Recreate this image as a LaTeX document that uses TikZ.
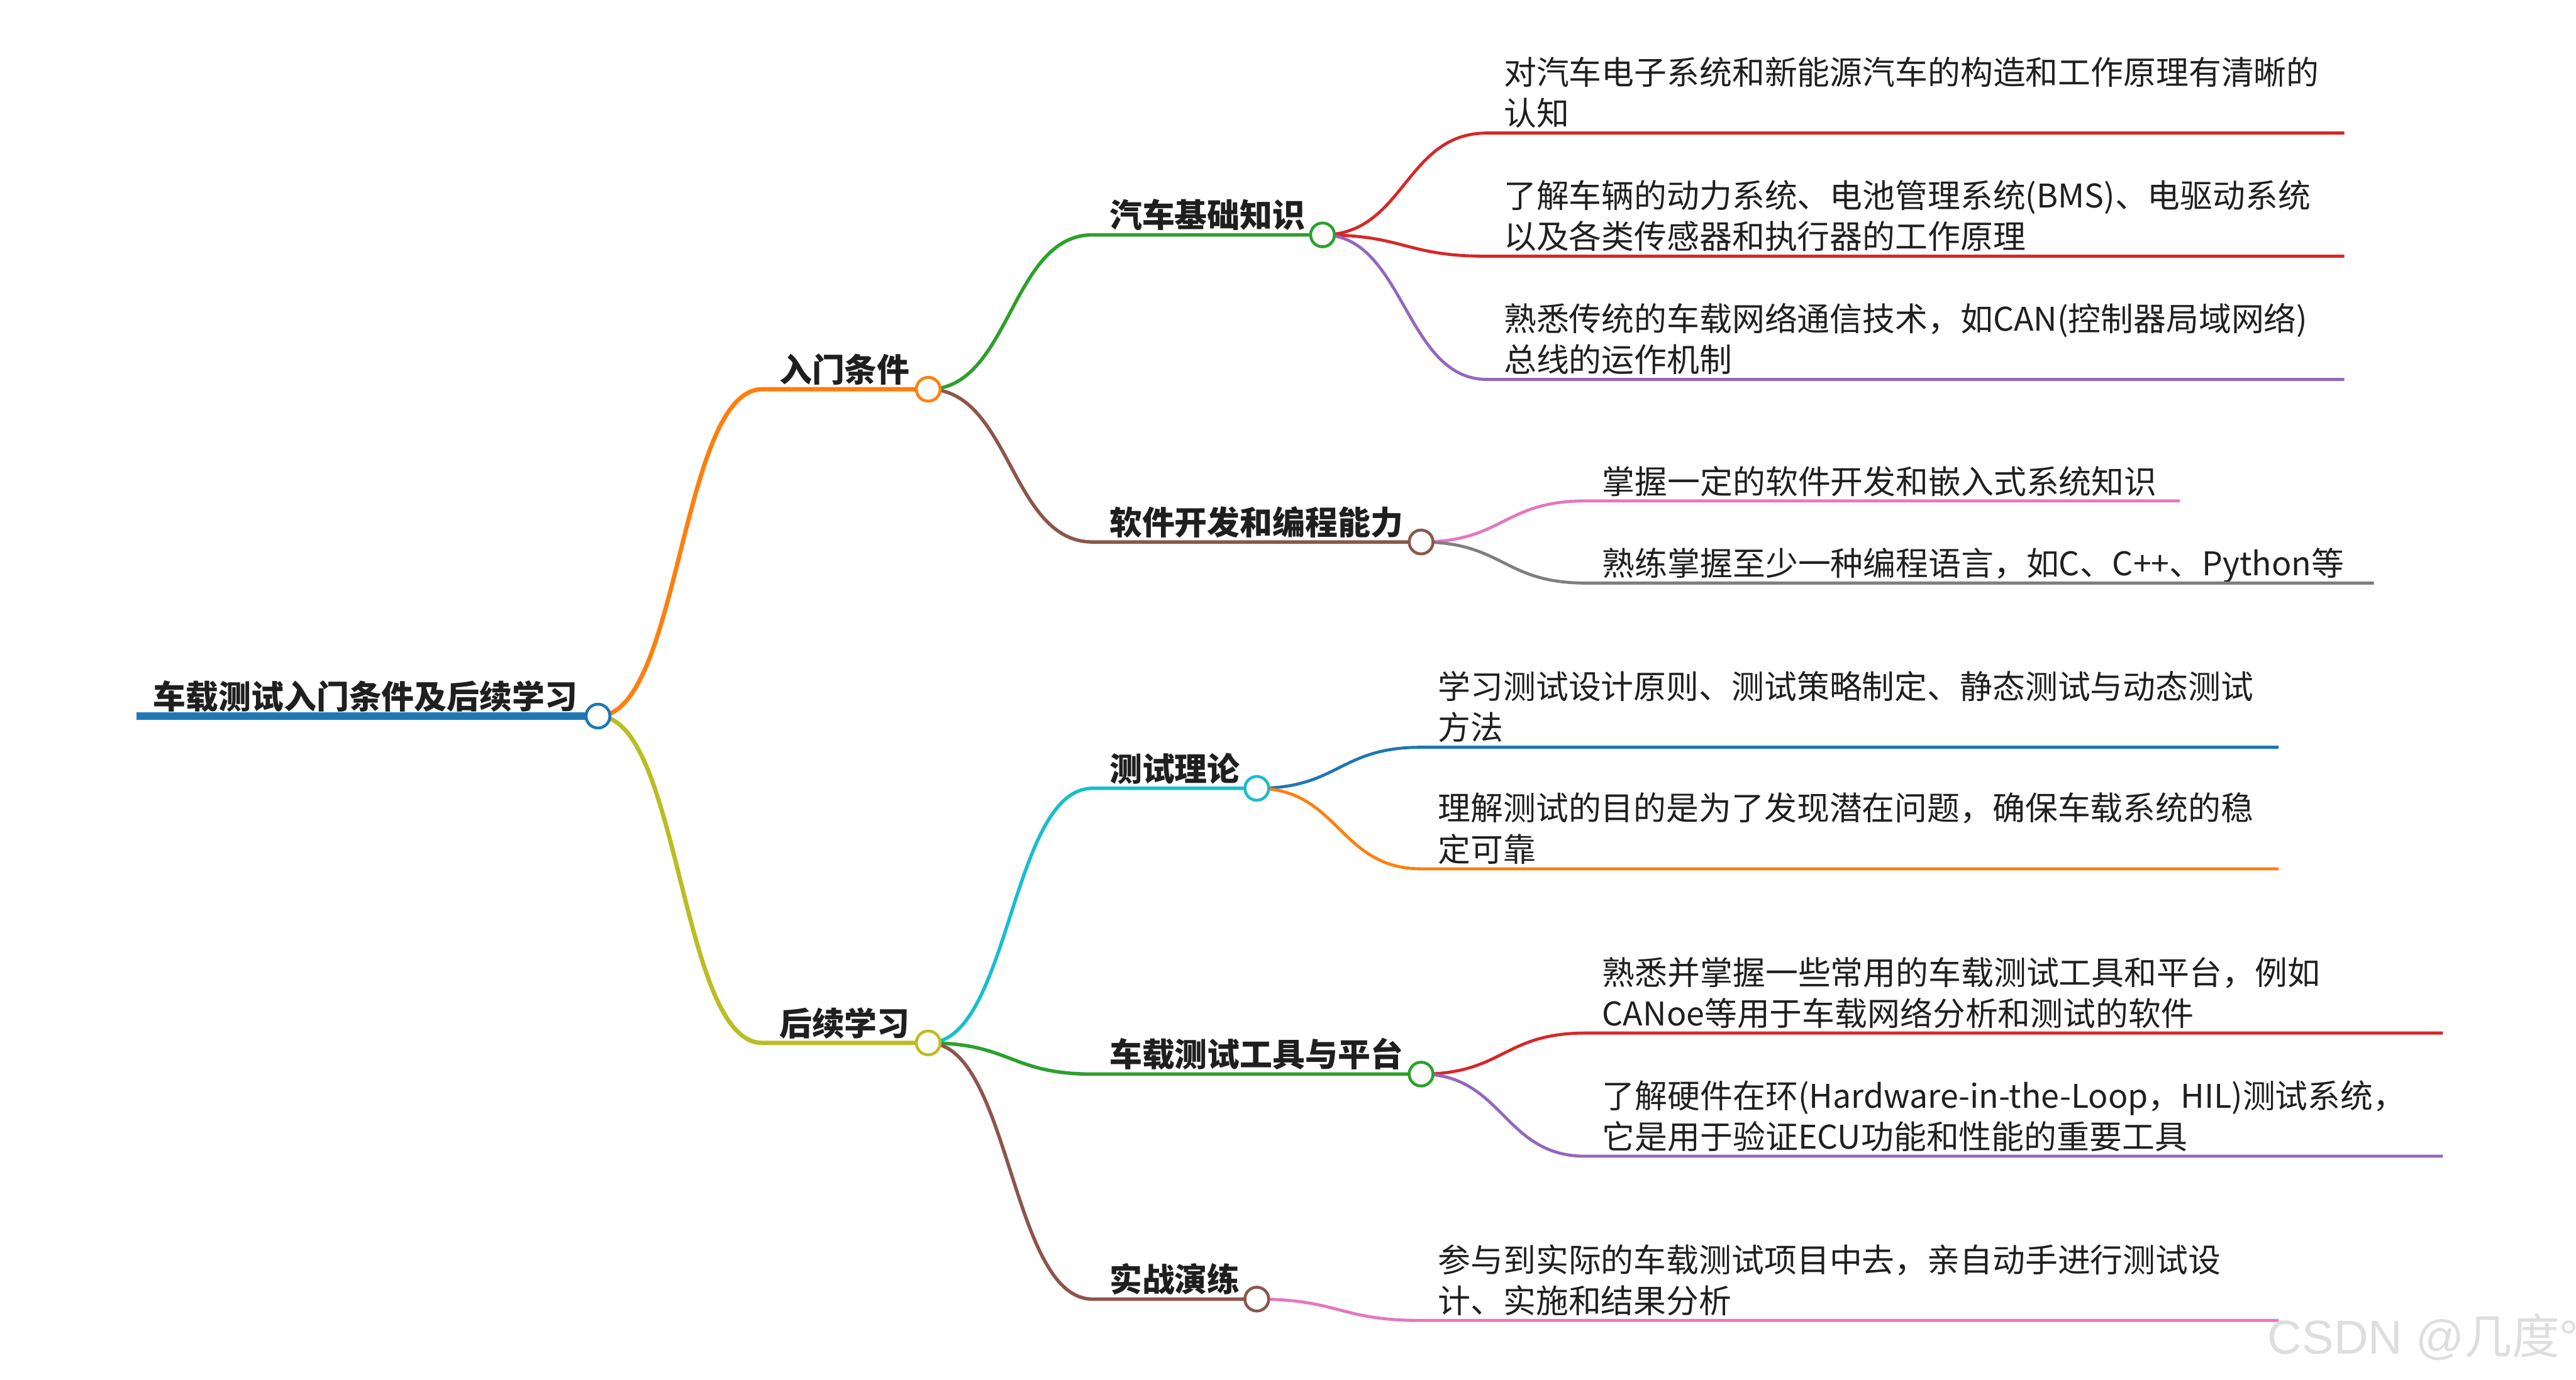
\documentclass[tikz,border=0pt]{standalone}
\usepackage{fontspec}
\usepackage{xcolor}
\usepackage{tikz}
\setmainfont{Noto Sans CJK SC}
\newfontfamily\markfont{Liberation Sans}

\definecolor{cBlue}{HTML}{1F77B4}
\definecolor{cOrange}{HTML}{FF7F0E}
\definecolor{cGreen}{HTML}{2CA02C}
\definecolor{cRed}{HTML}{D62728}
\definecolor{cPurple}{HTML}{9467BD}
\definecolor{cBrown}{HTML}{8C564B}
\definecolor{cPink}{HTML}{E377C2}
\definecolor{cGray}{HTML}{7F7F7F}
\definecolor{cOlive}{HTML}{BCBD22}
\definecolor{cCyan}{HTML}{17BECF}

\begin{document}
\begin{tikzpicture}[x=0.02cm, y=-0.02cm,
  topic/.style={font=\fontsize{11.3}{14.2}\selectfont\bfseries, anchor=base west, inner sep=0pt, text=black!88},
  leaf/.style={font=\fontsize{11.3}{14.2}\selectfont, anchor=base west, inner sep=0pt, align=left, text=black!88},
  dot/.style={circle, draw=#1, fill=white, line width=1pt, minimum size=0.29cm, inner sep=0pt},
  wire0/.style={line width=2.8pt},
  wire1/.style={line width=1.5pt},
  wire2/.style={line width=1.2pt},
  wire3/.style={line width=1.05pt},
  branch/.style={to path={.. controls +(50,0) and +(-50,0) .. (\tikztotarget)}}]
\useasboundingbox (0,0) rectangle (1568,840);

% Root
\node[topic] (root) at (93,431.5) {车载测试入门条件及后续学习};
\coordinate (root-s) at (83,436);
\coordinate (root-c) at (364,436);
\draw[wire0, cBlue] (root-s) -- (root-c);

% First level
\node[topic] (rumen) at (474,232.5) {入门条件};
\coordinate (rumen-s) at (464,237);
\coordinate (rumen-c) at (565,237);
\draw[wire1, cOrange] (root-c) to[branch] (rumen-s) -- (rumen-c);

\node[topic] (houxu) at (474,630.5) {后续学习};
\coordinate (houxu-s) at (464,635);
\coordinate (houxu-c) at (565,635);
\draw[wire1, cOlive] (root-c) to[branch] (houxu-s) -- (houxu-c);

% Second level, under 入门条件
\node[topic] (jichu) at (675,138.5) {汽车基础知识};
\coordinate (jichu-s) at (665,143);
\coordinate (jichu-c) at (805,143);
\draw[wire2, cGreen] (rumen-c) to[branch] (jichu-s) -- (jichu-c);

\node[topic] (ruanjian) at (675,325.5) {软件开发和编程能力};
\coordinate (ruanjian-s) at (665,330);
\coordinate (ruanjian-c) at (865,330);
\draw[wire2, cBrown] (rumen-c) to[branch] (ruanjian-s) -- (ruanjian-c);

% Second level, under 后续学习
\node[topic] (lilun) at (675,475.5) {测试理论};
\coordinate (lilun-s) at (665,480);
\coordinate (lilun-c) at (765,480);
\draw[wire2, cCyan] (houxu-c) to[branch] (lilun-s) -- (lilun-c);

\node[topic] (gongju) at (675,649.5) {车载测试工具与平台};
\coordinate (gongju-s) at (665,654);
\coordinate (gongju-c) at (865,654);
\draw[wire2, cGreen] (houxu-c) to[branch] (gongju-s) -- (gongju-c);

\node[topic] (shizhan) at (675,786.5) {实战演练};
\coordinate (shizhan-s) at (665,791);
\coordinate (shizhan-c) at (765,791);
\draw[wire2, cBrown] (houxu-c) to[branch] (shizhan-s) -- (shizhan-c);

% Leaves of 汽车基础知识
\node[leaf] (a1) at (915,76.5) {对汽车电子系统和新能源汽车的构造和工作原理有清晰的\\认知};
\draw[wire3, cRed] (jichu-c) to[branch] (905,81) coordinate (a1-s) -- (1427,81) coordinate (a1-e);
\node[leaf] (a2) at (915,151.5) {了解车辆的动力系统、电池管理系统(BMS)、电驱动系统\\以及各类传感器和执行器的工作原理};
\draw[wire3, cRed] (jichu-c) to[branch] (905,156) coordinate (a2-s) -- (1427,156) coordinate (a2-e);
\node[leaf] (a3) at (915,226.5) {熟悉传统的车载网络通信技术，如CAN(控制器局域网络)\\总线的运作机制};
\draw[wire3, cPurple] (jichu-c) to[branch] (905,231) coordinate (a3-s) -- (1427,231) coordinate (a3-e);

% Leaves of 软件开发和编程能力
\node[leaf] (b1) at (975,300.5) {掌握一定的软件开发和嵌入式系统知识};
\draw[wire3, cPink] (ruanjian-c) to[branch] (965,305) coordinate (b1-s) -- (1327,305) coordinate (b1-e);
\node[leaf] (b2) at (975,350.5) {熟练掌握至少一种编程语言，如C、C++、Python等};
\draw[wire3, cGray] (ruanjian-c) to[branch] (965,355) coordinate (b2-s) -- (1445,355) coordinate (b2-e);

% Leaves of 测试理论
\node[leaf] (c1) at (875,450.5) {学习测试设计原则、测试策略制定、静态测试与动态测试\\方法};
\draw[wire3, cBlue] (lilun-c) to[branch] (865,455) coordinate (c1-s) -- (1387,455) coordinate (c1-e);
\node[leaf] (c2) at (875,524.5) {理解测试的目的是为了发现潜在问题，确保车载系统的稳\\定可靠};
\draw[wire3, cOrange] (lilun-c) to[branch] (865,529) coordinate (c2-s) -- (1387,529) coordinate (c2-e);

% Leaves of 车载测试工具与平台
\node[leaf] (d1) at (975,624.5) {熟悉并掌握一些常用的车载测试工具和平台，例如\\CANoe等用于车载网络分析和测试的软件};
\draw[wire3, cRed] (gongju-c) to[branch] (965,629) coordinate (d1-s) -- (1487,629) coordinate (d1-e);
\node[leaf] (d2) at (975,699.5) {了解硬件在环(Hardware-in-the-Loop，HIL)测试系统，\\它是用于验证ECU功能和性能的重要工具};
\draw[wire3, cPurple] (gongju-c) to[branch] (965,704) coordinate (d2-s) -- (1487,704) coordinate (d2-e);

% Leaf of 实战演练
\node[leaf] (e1) at (875,799.5) {参与到实际的车载测试项目中去，亲自动手进行测试设\\计、实施和结果分析};
\draw[wire3, cPink] (shizhan-c) to[branch] (865,804) coordinate (e1-s) -- (1387,804) coordinate (e1-e);

% Circles on top
\node[dot=cBlue] (root-dot) at (root-c) {};
\node[dot=cOrange] (rumen-dot) at (rumen-c) {};
\node[dot=cOlive] (houxu-dot) at (houxu-c) {};
\node[dot=cGreen] (jichu-dot) at (jichu-c) {};
\node[dot=cBrown] (ruanjian-dot) at (ruanjian-c) {};
\node[dot=cCyan] (lilun-dot) at (lilun-c) {};
\node[dot=cGreen] (gongju-dot) at (gongju-c) {};
\node[dot=cBrown] (shizhan-dot) at (shizhan-c) {};

% Watermark
\node[anchor=base west, inner sep=0pt, text=black!13, font=\fontsize{16.5}{20}\selectfont] (mark) at (1380,824.5) {{\markfont CSDN @}几度{\markfont °}};
\end{tikzpicture}
\end{document}
